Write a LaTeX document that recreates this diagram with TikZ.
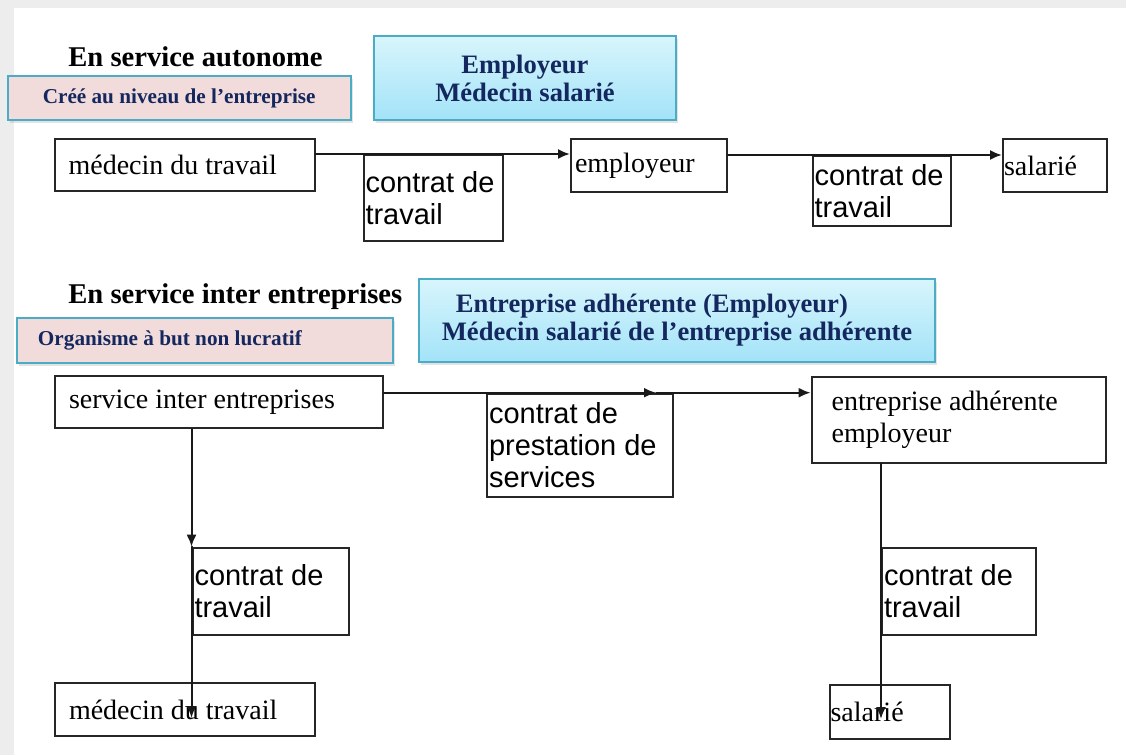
\documentclass[tikz,border=0pt]{standalone}
\usepackage{fontspec}
\setmainfont{Liberation Serif}
\setsansfont{Liberation Sans}
\usetikzlibrary{arrows.meta}
\usetikzlibrary{shadows}
\definecolor{marine}{HTML}{14285F}
\definecolor{rosepale}{HTML}{F2DCDB}
\definecolor{turquoise}{HTML}{4BACC6}
\definecolor{ciel}{HTML}{D8F5FC}
\definecolor{cielfonce}{HTML}{A3E3F8}

\begin{document}
\begin{tikzpicture}[x=0.5pt,y=-0.5pt,line cap=round] %% 1px = 0.5pt
	\tikzstyle{boite}=[draw=black!85,line width=1pt,anchor=north west,align=flush left,inner ysep=0pt,font=\fontsize{14}{16}\selectfont];
	\tikzstyle{contrat}=[boite,inner xsep=1pt,font=\sffamily\fontsize{14.5}{16}\selectfont];
	\tikzstyle{titre}=[anchor=base west,inner sep=0pt,font=\bfseries\fontsize{14.3}{17}\selectfont];
	\tikzstyle{rose}=[draw=turquoise,line width=1pt,fill=rosepale,anchor=north west,text=marine,font=\bfseries\fontsize{10.6}{13}\selectfont,drop shadow={shadow xshift=1pt,shadow yshift=-1.5pt,opacity=.22}];
	\tikzstyle{bleu}=[rose,top color=ciel,bottom color=cielfonce,font=\bfseries\fontsize{13.3}{14}\selectfont];
	\tikzstyle{fleche}=[-{Latex[length=6pt,width=5pt]},line width=1pt,black!90];
	%% cadre
	\fill[black!7] (0,0) rectangle (1126,755);
	\fill[white] (14,8) rectangle (1126,755);
	\useasboundingbox (0,0) rectangle (1126,755);
	%% service autonome
	\node[titre] (titreA) at (68,66.7) {En service autonome};
	\node[rose,minimum width=171.5pt,minimum height=21.9pt,align=center] (roseA) at (6.7,75.3) {Créé au niveau de l’entreprise};
	\node[bleu,minimum width=151pt,minimum height=42pt,align=center] (bleuA) at (373,35) {Employeur\\Médecin salarié};
	\node[boite,inner xsep=7pt,text width=116pt,minimum height=26pt] (medA) at (53.6,138.3) {médecin du travail};
	\node[contrat,text width=67.75pt,minimum height=43pt] (ctA) at (362.5,154) {contrat de\\travail};
	\node[boite,inner xsep=2pt,text width=74pt,minimum height=26.2pt] (empA) at (570,138.3) {employeur};
	\node[contrat,text width=67.4pt,minimum height=35pt] (ctB) at (811.6,155) {contrat de\\travail};
	\node[boite,inner xsep=.5pt,text width=50.8pt,minimum height=26.2pt] (salA) at (1002,138.3) {salarié};
	\draw[fleche] (medA.east |- ctA.north) -- (empA.west |- ctA.north);
	\draw[fleche] (empA.east |- ctB.north) -- (salA.west |- ctB.north);
	%% service inter entreprises
	\node[titre] (titreB) at (68,303) {En service inter entreprises};
	\node[rose,inner xsep=10.5pt,text width=167pt,minimum height=22.8pt,align=flush left] (roseB) at (16,316.7) {Organisme à but non lucratif};
	\node[bleu,minimum width=258pt,minimum height=41.3pt,align=flush left] (bleuB) at (418,278) {\hspace*{7pt}Entreprise adhérente (Employeur)\\Médecin salarié de l’entreprise adhérente};
	\node[boite,inner xsep=7pt,text width=150pt,minimum height=26pt] (sie) at (54,375) {service inter entreprises};
	\node[contrat,text width=91pt,minimum height=51.5pt] (prest) at (486,392.7) {contrat de\\prestation de\\services};
	\node[boite,inner xsep=10pt,text width=127.2pt,minimum height=42.8pt] (ea) at (810.6,376) {entreprise adhérente\\employeur};
	\node[contrat,text width=76.2pt,minimum height=43.7pt] (ctC) at (191.5,546.7) {contrat de\\travail};
	\node[boite,inner xsep=7pt,text width=115.8pt,minimum height=26.7pt] (medB) at (54,681.7) {médecin du travail};
	\node[contrat,text width=75pt,minimum height=43.7pt] (ctD) at (881,546.7) {contrat de\\travail};
	\node[boite,inner xsep=.5pt,text width=59.2pt,minimum height=27pt] (salB) at (828.6,684) {salarié};
	\coordinate (pointe) at (656,392.7);
	\coordinate (basA) at (191.5,718);
	\coordinate (basB) at (881,719);
	\draw[fleche] (sie.east |- prest.north) -- (pointe);
	\draw[fleche] (pointe) -- (ea.west |- prest.north);
	\draw[fleche] (sie.south -| ctC.west) -- (ctC.north west);
	\draw[fleche] (ctC.north west) -- (basA);
	\draw[fleche] (ea.south -| ctD.west) -- (basB);
\end{tikzpicture}
\end{document}
